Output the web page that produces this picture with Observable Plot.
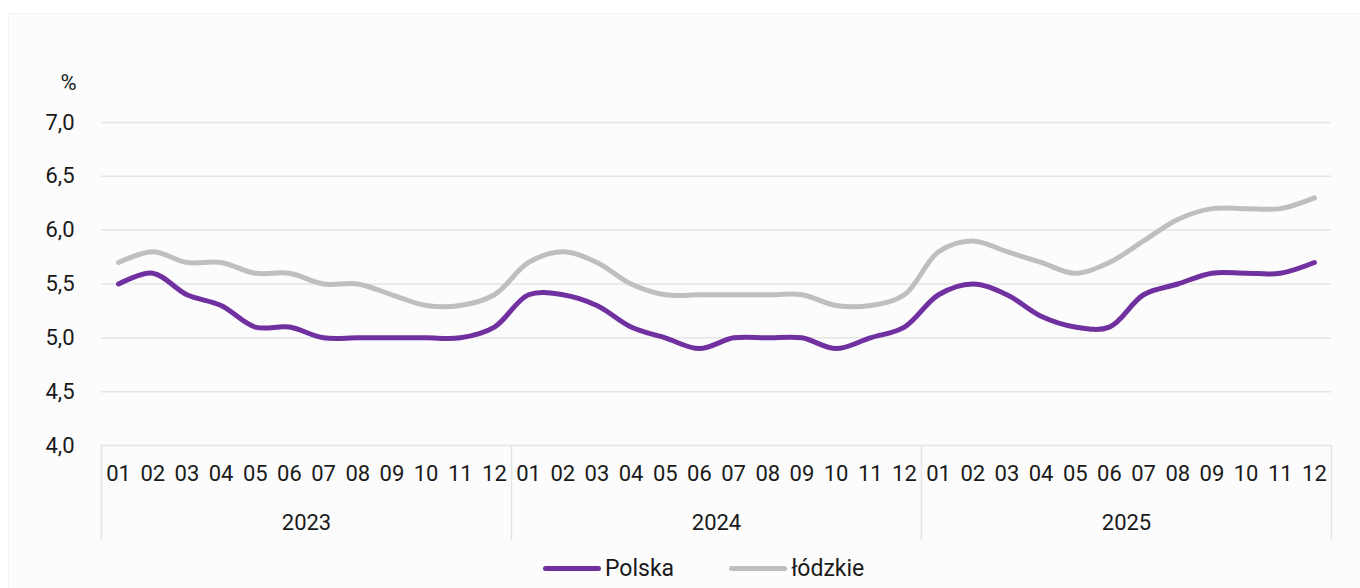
<!DOCTYPE html>
<html>
<head>
<meta charset="utf-8">
<script src="https://cdn.jsdelivr.net/npm/d3@7"></script>
<script src="https://cdn.jsdelivr.net/npm/@observablehq/plot@0.6"></script>
<style>
  html, body { margin: 0; padding: 0; background: #ffffff; }
  #wrap { position: relative; width: 1360px; height: 588px; overflow: hidden; font-family: Roboto, "Noto Sans", sans-serif; }
  #panel { position: absolute; left: 8px; top: 13px; right: 0; bottom: 0; background: #fcfcfc; border-left: 1px solid #f4f4f4; border-top: 1px solid #f4f4f4; }
  #chart { position: absolute; left: 0; top: 0; }
  #legend { position: absolute; left: 543px; top: 554px; height: 28px; display: flex; align-items: center; font-size: 23px; color: #1a1a1a; }
  .item { display: flex; align-items: center; }
  .sw { width: 58px; height: 5px; border-radius: 3px; margin-right: 4px; }
</style>
</head>
<body>
<div id="wrap">
  <div id="panel"></div>
  <div id="chart"></div>
  <div id="legend"></div>
</div>
<script>
const months = ["01","02","03","04","05","06","07","08","09","10","11","12"];
const years = ["2023","2024","2025"];
const seriesNames = ["Polska", "łódzkie"];
const seriesColors = ["#7030A0", "#BFBFBF"];
const yTicks = [4.0, 4.5, 5.0, 5.5, 6.0, 6.5, 7.0];

const polska = [
  5.5, 5.6, 5.4, 5.3, 5.1, 5.1, 5.0, 5.0, 5.0, 5.0, 5.0, 5.1,
  5.4, 5.4, 5.3, 5.1, 5.0, 4.9, 5.0, 5.0, 5.0, 4.9, 5.0, 5.1,
  5.4, 5.5, 5.4, 5.2, 5.1, 5.1, 5.4, 5.5, 5.6, 5.6, 5.6, 5.7
];
const lodzkie = [
  5.7, 5.8, 5.7, 5.7, 5.6, 5.6, 5.5, 5.5, 5.4, 5.3, 5.3, 5.4,
  5.7, 5.8, 5.7, 5.5, 5.4, 5.4, 5.4, 5.4, 5.4, 5.3, 5.3, 5.4,
  5.8, 5.9, 5.8, 5.7, 5.6, 5.7, 5.9, 6.1, 6.2, 6.2, 6.2, 6.3
];

const n = years.length * months.length;
const data = [
  ...polska.map((v, i) => ({i, v, s: seriesNames[0]})),
  ...lodzkie.map((v, i) => ({i, v, s: seriesNames[1]}))
];
const boundaries = d3.range(years.length + 1).map(k => k * months.length - 0.5);
const yearData = years.map((y, k) => ({y, x: k * months.length + (months.length - 1) / 2}));

const marginTop = 122, marginBottom = 105, height = 550;
const frameH = height - marginTop - marginBottom;

const chart = Plot.plot({
  width: 1360,
  height,
  marginLeft: 101,
  marginRight: 29,
  marginTop,
  marginBottom,
  style: { fontFamily: "Roboto, 'Noto Sans', sans-serif", fontSize: "22px", color: "#1a1a1a", background: "transparent", overflow: "visible" },
  x: { domain: [-0.5, n - 0.5], axis: null },
  y: { domain: [4, 7], axis: null },
  color: { domain: seriesNames, range: seriesColors },
  marks: [
    Plot.gridY(yTicks, { stroke: "#e4e4e4", strokeOpacity: 1, strokeWidth: 1.5 }),
    Plot.ruleX(boundaries, { stroke: "#e4e4e4", strokeWidth: 1.5, insetTop: frameH, insetBottom: -95 }),
    Plot.axisY(yTicks, { tickSize: 0, tickPadding: 27, tickFormat: d => d.toFixed(1).replace(".", ","), label: null, fontSize: 22 }),
    Plot.axisX(d3.range(n), { tickSize: 0, tickPadding: 20, tickFormat: i => months[i % months.length], label: null, fontSize: 22 }),
    Plot.text(yearData, { x: "x", text: "y", frameAnchor: "bottom", lineAnchor: "middle", dy: 77, fontSize: 22, fill: "#1a1a1a" }),
    Plot.text(["%"], { frameAnchor: "top-left", textAnchor: "middle", lineAnchor: "middle", dx: -33, dy: -40, fontSize: 22, fill: "#1a1a1a" }),
    Plot.line(data, { x: "i", y: "v", z: "s", stroke: "s", strokeWidth: 5, curve: "catmull-rom", strokeLinecap: "round", strokeLinejoin: "round" })
  ]
});
document.getElementById("chart").appendChild(chart);

const legend = document.getElementById("legend");
seriesNames.forEach((name, k) => {
  const item = document.createElement("div");
  item.className = "item";
  if (k > 0) item.style.marginLeft = "55px";
  const sw = document.createElement("div");
  sw.className = "sw";
  sw.style.background = seriesColors[k];
  const t = document.createElement("span");
  t.textContent = name;
  item.appendChild(sw);
  item.appendChild(t);
  legend.appendChild(item);
});
</script>
</body>
</html>
